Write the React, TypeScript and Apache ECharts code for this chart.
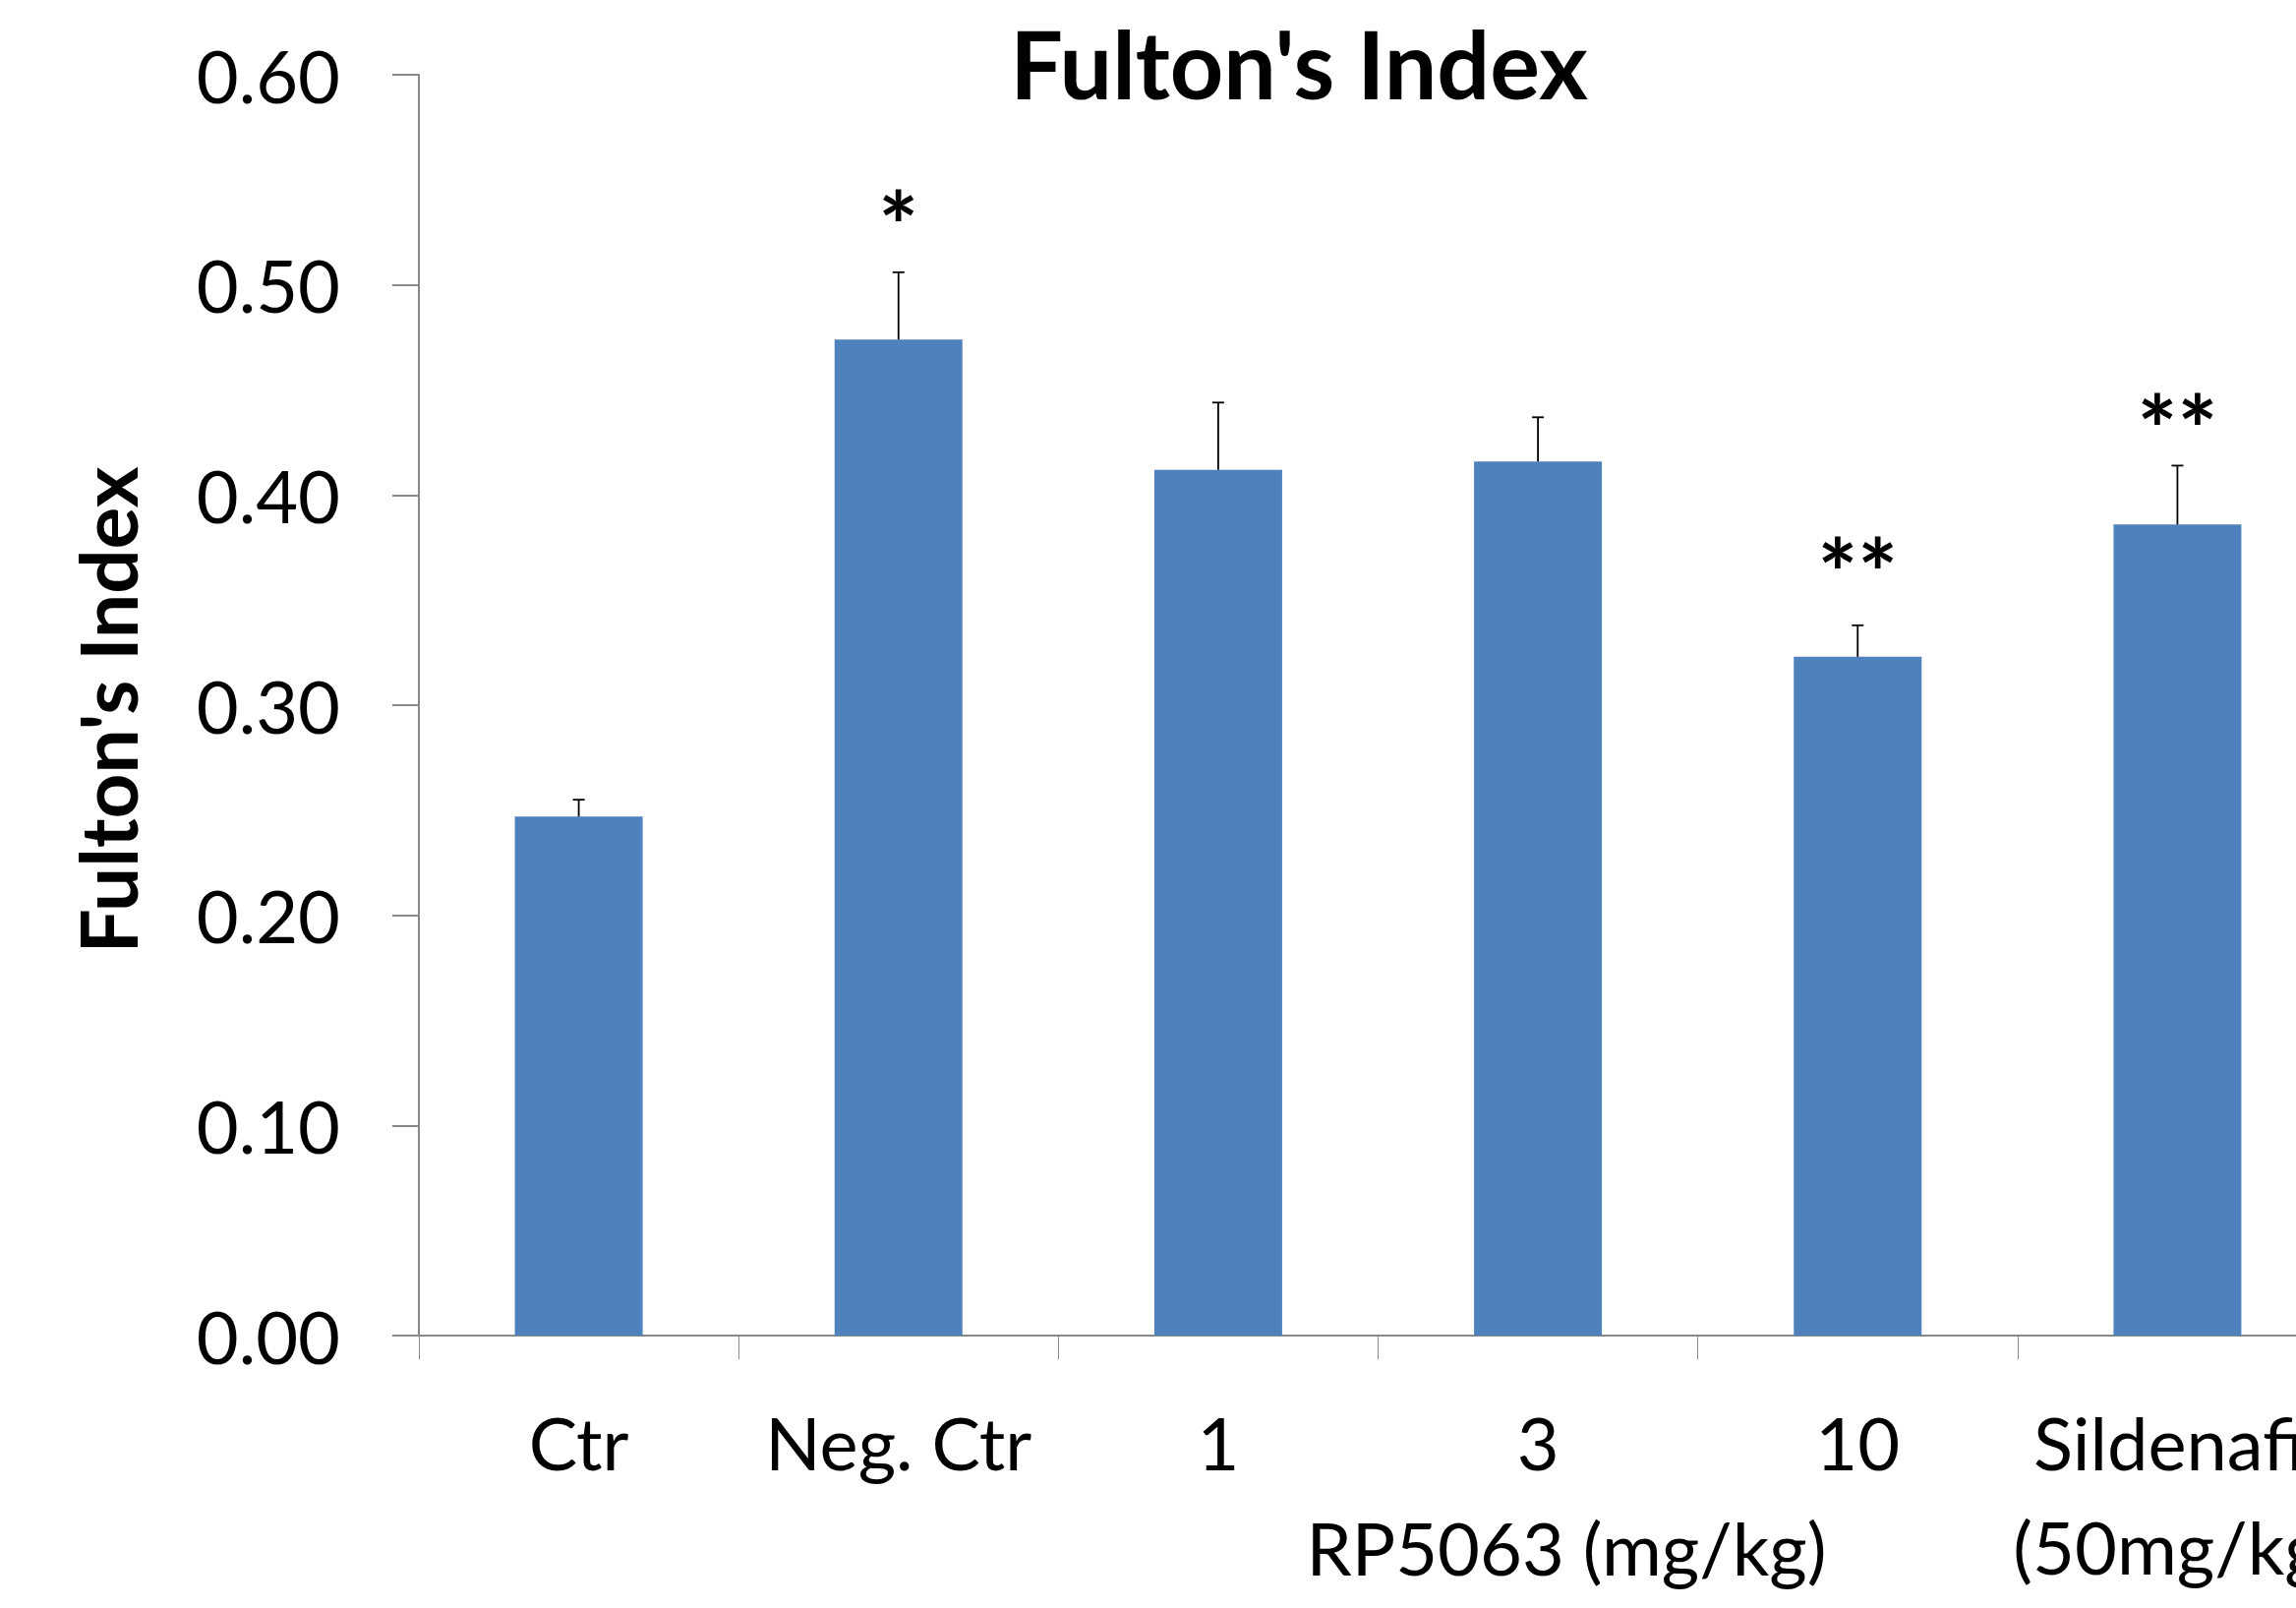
import React, { useEffect, useRef } from "react";
import * as echarts from "echarts";

const categories = ["Ctr", "Neg. Ctr", "1", "3", "10", "Sildenafil\n(50mg/kg)"];
const values = [0.247, 0.474, 0.412, 0.416, 0.323, 0.386];
const errors = [0.008, 0.032, 0.032, 0.021, 0.015, 0.028];
const sigMarks = ["", "*", "", "", "**", "**"];
const sigLevels = [null, 0.529, null, null, 0.364, 0.432];
const yTicks = { min: 0, max: 0.6, interval: 0.1 };
const titleText = "Fulton's Index";
const yName = "Fulton's Index";
const groupName = "RP5063 (mg/kg)";

const FONT = "Lato, 'Open Sans', sans-serif";
const CHART_W = 2450;

export default function App() {
  const ref = useRef<HTMLDivElement>(null);
  useEffect(() => {
    if (!ref.current) return;
    const chart = echarts.init(ref.current, null, { renderer: "svg" });
    const errData = values.map((v, i) => [i, v, errors[i]]);
    const sigData = sigLevels
      .map((lv, i) => (lv == null ? null : [i, lv]))
      .filter((d) => d != null) as number[][];
    const sigIdx = sigLevels.map((lv, i) => (lv == null ? -1 : i)).filter((i) => i >= 0);

    chart.setOption({
      animation: false,
      backgroundColor: "#ffffff",
      grid: { left: 426, top: 76, bottom: 277, right: CHART_W - 2377, containLabel: false },
      xAxis: {
        type: "category",
        data: categories,
        boundaryGap: true,
        axisLine: { lineStyle: { color: "#898989", width: 2 } },
        axisTick: { show: true, length: 24, alignWithLabel: false, lineStyle: { color: "#898989", width: 1 } },
        axisLabel: {
          interval: 0,
          color: "#000",
          fontFamily: FONT,
          fontSize: 74,
          lineHeight: 106,
          margin: 55,
        },
      },
      yAxis: {
        type: "value",
        min: yTicks.min,
        max: yTicks.max,
        interval: yTicks.interval,
        splitLine: { show: false },
        axisLine: { show: true, lineStyle: { color: "#898989", width: 2 } },
        axisTick: { show: true, length: 27, lineStyle: { color: "#898989", width: 2 } },
        axisLabel: {
          color: "#000",
          fontFamily: FONT,
          fontSize: 74,
          margin: 80,
          formatter: (v: number) => v.toFixed(2),
        },
      },
      graphic: [
        {
          type: "text",
          x: 1321,
          y: 64,
          style: {
            text: titleText,
            fontFamily: FONT,
            fontWeight: "bold",
            fontSize: 95,
            fill: "#000",
            align: "center",
            verticalAlign: "middle",
          },
        },
        {
          type: "text",
          x: 109,
          y: 722,
          rotation: Math.PI / 2,
          style: {
            text: yName,
            fontFamily: FONT,
            fontWeight: "bold",
            fontSize: 80,
            fill: "#000",
            align: "center",
            verticalAlign: "middle",
          },
        },
        {
          type: "text",
          x: 1593,
          y: 1573,
          style: {
            text: groupName,
            fontFamily: FONT,
            fontSize: 74,
            fill: "#000",
            align: "center",
            verticalAlign: "middle",
          },
        },
      ],
      series: [
        {
          type: "bar",
          data: values,
          barWidth: 130,
          itemStyle: { color: "#4F81BD" },
        },
        {
          type: "custom",
          data: errData,
          z: 5,
          renderItem: (params: any, api: any) => {
            const x = api.value(0);
            const v = api.value(1);
            const e = api.value(2);
            const p0 = api.coord([x, v]);
            const p1 = api.coord([x, v + e]);
            const st = { stroke: "#000", lineWidth: 1.8 };
            return {
              type: "group",
              children: [
                { type: "line", shape: { x1: p0[0], y1: p0[1], x2: p1[0], y2: p1[1] }, style: st },
                { type: "line", shape: { x1: p1[0] - 6, y1: p1[1], x2: p1[0] + 6, y2: p1[1] }, style: st },
              ],
            };
          },
        },
        {
          type: "custom",
          data: sigData,
          z: 6,
          renderItem: (params: any, api: any) => {
            const p = api.coord([api.value(0), api.value(1)]);
            const idx = sigIdx[params.dataIndex];
            return {
              type: "text",
              x: p[0],
              y: p[1],
              style: {
                text: sigMarks[idx],
                fontFamily: FONT,
                fontWeight: "bold",
                fontSize: 96,
                fill: "#000",
                align: "center",
                verticalAlign: "middle",
              },
            };
          },
        },
      ],
    });
    return () => chart.dispose();
  }, []);
  return (
    <div style={{ position: "fixed", left: 0, top: 0, width: 2335, height: 1635, overflow: "hidden", background: "#fff" }}>
      <div ref={ref} style={{ width: CHART_W, height: 1635 }} />
    </div>
  );
}
